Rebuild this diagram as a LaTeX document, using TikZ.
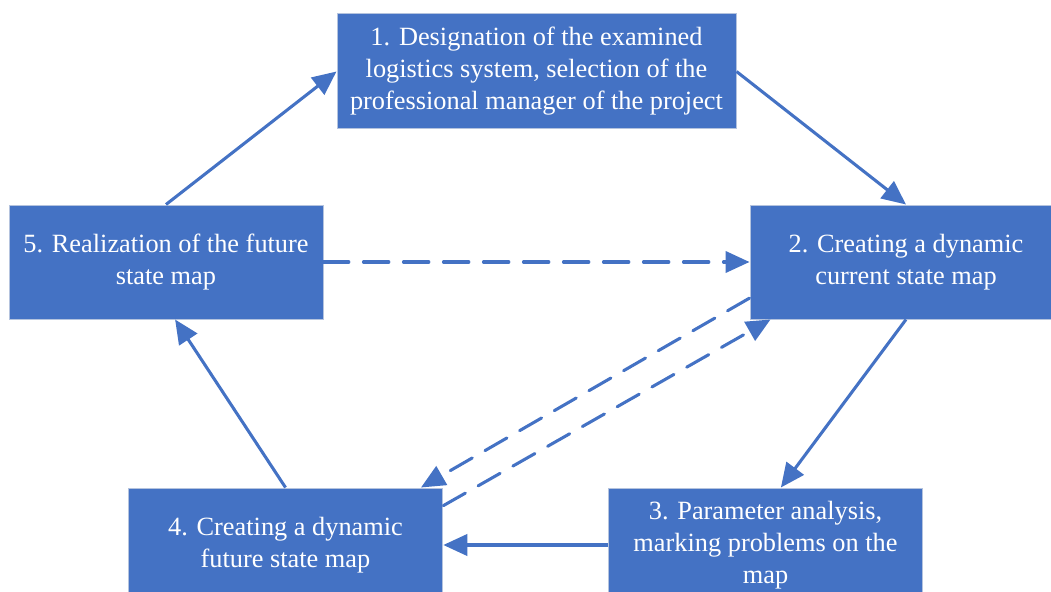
\documentclass[tikz,border=0pt]{standalone}
\usepackage{fontspec}
\setmainfont{Liberation Serif}
\usetikzlibrary{arrows.meta}

\definecolor{boxblue}{HTML}{4472C4}
\definecolor{boxedge}{HTML}{B4C3DE}

\tikzset{
  stagebox/.style={rectangle, fill=boxblue, draw=boxedge, line width=0.75pt,
    text=white, align=center, inner sep=0pt,
    font=\fontsize{19.75}{24}\selectfont},
  flow/.style={draw=boxblue, line width=2.3pt, -{Triangle[length=18pt,width=16pt]}},
  back/.style={flow, dash pattern=on 19pt off 11pt, line cap=round}
}

\begin{document}
\begin{tikzpicture}[x=0.75pt,y=-0.75pt]

\useasboundingbox (0,0) rectangle (1051,592);

\node (b1) at (536.5,71.5) [stagebox, minimum width=299.25pt, minimum height=86.25pt]
   {1. Designation of the examined\\logistics system, selection of the\\professional manager of the project};
\node (b2) at (906,262) [stagebox, minimum width=234pt, minimum height=85.5pt]
   {2. Creating a dynamic\\current state map};
\node (b3) at (765.5,545) [stagebox, minimum width=235pt, minimum height=85.5pt]
   {3. Parameter analysis,\\marking problems on the\\map};
\node (b4) at (285.5,545) [stagebox, minimum width=236pt, minimum height=85.5pt]
   {4. Creating a dynamic\\future state map};
\node (b5) at (166,262) [stagebox, minimum width=235.5pt, minimum height=85.5pt]
   {5. Realization of the future\\state map};

\draw [flow] (b5.north) -- (b1.west);
\draw [flow] (b1.east) -- (b2.north);
\draw [flow] (b2.south) -- (b3.75);
\draw [flow] (b3.west) -- (b4.east);
\draw [flow] (b4.north) -- (b5.-81);

\draw [back] (b5.east) -- (b2.west);
\draw [back] (b2.193) -- (b4.23);
\draw [back] (b4.14) -- (b2.203);

\end{tikzpicture}
\end{document}
